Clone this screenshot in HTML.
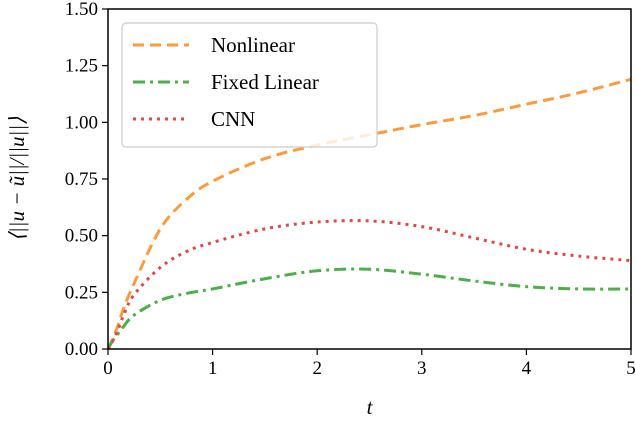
<!DOCTYPE html>
<html><head><meta charset="utf-8"><style>
body{margin:0;background:#fff;width:636px;height:424px;overflow:hidden}
text{font-family:"Liberation Serif",serif;fill:#000}
</style></head><body>
<svg id="chart" width="636" height="424" viewBox="0 0 636 424" xmlns="http://www.w3.org/2000/svg"></svg>
<script>
const tValues=[0,0.05,0.1,0.15,0.25,0.5,0.75,1,1.5,2,2.5,3,3.5,4,4.5,5];
const nonlinear=[0,0.05,0.11,0.18,0.29,0.53,0.66,0.74,0.84,0.9,0.945,0.99,1.03,1.08,1.13,1.19];
const fixedLinear=[0,0.04,0.07,0.1,0.15,0.215,0.245,0.265,0.31,0.345,0.352,0.33,0.30,0.275,0.265,0.265];
const cnn=[0,0.04,0.09,0.15,0.24,0.36,0.43,0.47,0.53,0.56,0.565,0.54,0.49,0.44,0.41,0.39];
const xTicks=["0","1","2","3","4","5"];
const yTicks=["0.00","0.25","0.50","0.75","1.00","1.25","1.50"];
const X0=108,X1=631,Y0=349,Y1=9;
const xs=t=>X0+(X1-X0)*t/5;
const ys=v=>Y0-(Y0-Y1)*v/1.5;
const svg=document.getElementById('chart');
const NS='http://www.w3.org/2000/svg';
function mk(tag,attrs,parent){const e=document.createElementNS(NS,tag);for(const k in attrs)e.setAttribute(k,attrs[k]);(parent||svg).appendChild(e);return e;}
const clip=mk('clipPath',{id:'clip'});mk('rect',{x:X0,y:Y1,width:X1-X0,height:Y0-Y1},clip);
const series=[
 {name:'nonlinear-line',vals:nonlinear,color:'#ff9a3c',dash:'11,6',label:'Nonlinear'},
 {name:'fixed-linear-line',vals:fixedLinear,color:'#4daf4a',dash:'12,5,3,5',label:'Fixed Linear'},
 {name:'cnn-line',vals:cnn,color:'#e04848',dash:'3,5',label:'CNN'}];
series.forEach(s=>{
 const pts=tValues.map((t,i)=>[xs(t),ys(s.vals[i])]);
 let d='M'+pts[0][0]+','+pts[0][1];
 for(let i=0;i<pts.length-1;i++){
  const p0=pts[Math.max(0,i-1)],p1=pts[i],p2=pts[i+1],p3=pts[Math.min(pts.length-1,i+2)];
  d+=' C'+(p1[0]+(p2[0]-p0[0])/6)+','+(p1[1]+(p2[1]-p0[1])/6)+' '+(p2[0]-(p3[0]-p1[0])/6)+','+(p2[1]-(p3[1]-p1[1])/6)+' '+p2[0]+','+p2[1];
 }
 const p=mk('path',{d:d,fill:'none',stroke:s.color,'stroke-width':3,'stroke-dasharray':s.dash,'clip-path':'url(#clip)'});
 
 
});
xTicks.forEach((l,i)=>{
 const x=xs(+l);
 mk('line',{x1:x,x2:x,y1:Y0,y2:Y0+6,stroke:'#000','stroke-width':1.2});
 const t=mk('text',{x:x,y:Y0+25,'text-anchor':'middle','font-size':19});t.textContent=l;
 
 
});
yTicks.forEach(l=>{
 const y=ys(+l);
 mk('line',{x1:X0-6,x2:X0,y1:y,y2:y,stroke:'#000','stroke-width':1.2});
 const t=mk('text',{x:X0-10,y:y+6,'text-anchor':'end','font-size':19});t.textContent=l;
 
 
});
mk('rect',{x:X0,y:Y1,width:X1-X0,height:Y0-Y1,fill:'none',stroke:'#000','stroke-width':1.5});
const xt=mk('text',{x:(X0+X1)/2,y:414,'text-anchor':'middle','font-size':21,'font-style':'italic'});xt.textContent='t';


const yt=mk('text',{x:0,y:0,'text-anchor':'middle','font-size':21,'font-style':'italic',transform:'translate(24,'+((Y0+Y1)/2)+') rotate(-90)'});
yt.textContent='⟨||u − ũ||/||u||⟩';


const lg=mk('g',{});


mk('rect',{x:122,y:23,width:255,height:124,rx:4,fill:'#fff','fill-opacity':0.8,stroke:'#ccc','stroke-width':1.2},lg);
series.forEach((s,i)=>{
 const y=45+i*37;
 mk('line',{x1:133,x2:189,y1:y,y2:y,stroke:s.color,'stroke-width':3,'stroke-dasharray':s.dash},lg);
 const t=mk('text',{x:211,y:y+7,'font-size':21},lg);t.textContent=s.label;
 
 
});
</script>
</body></html>
